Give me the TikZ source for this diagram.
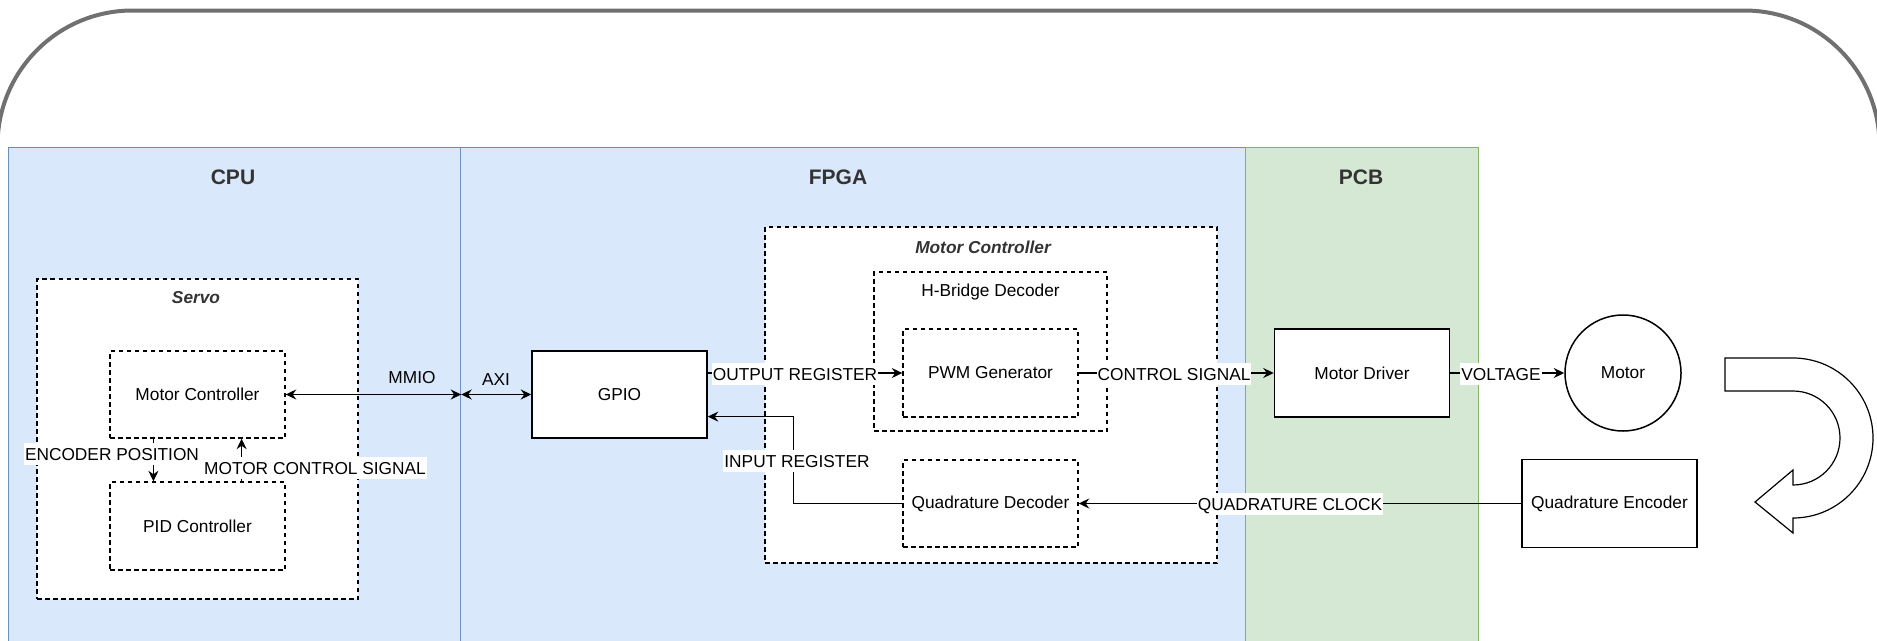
\documentclass[tikz,border=0pt]{standalone}
\usepackage{fontspec}
\setmainfont{Liberation Sans}
\usetikzlibrary{arrows.meta,calc,shapes.geometric}

\definecolor{laneblue}{HTML}{DAE8FC}
\definecolor{laneblueline}{HTML}{6C8EBF}
\definecolor{lanegreen}{HTML}{D5E8D4}
\definecolor{lanegreenline}{HTML}{82B366}
\definecolor{framegray}{HTML}{707070}
\definecolor{titlegray}{HTML}{333333}

\begin{document}
\begin{tikzpicture}[x=1pt,y=-1pt,
  font=\fontsize{17.3}{20}\selectfont,
  >={Stealth[length=10.5pt,width=10pt,inset=3.5pt]},
  lanebox/.style={line width=1.2pt, inner sep=0pt, anchor=north west, minimum height=553pt},
  lanetitle/.style={font=\fontsize{21}{25}\selectfont\bfseries, text=titlegray, inner sep=0pt},
  grouptitle/.style={font=\fontsize{17.3}{20}\selectfont\bfseries\itshape, text=titlegray, inner sep=0pt},
  dbox/.style={draw, fill=white, dash pattern=on 4.5pt off 3.5pt, line width=1.4pt, inner sep=0pt},
  sbox/.style={draw, fill=white, line width=1.5pt, inner sep=0pt, minimum width=175pt, minimum height=87pt},
  plain/.style={inner sep=0pt},
  link/.style={line width=1.5pt},
  elabel/.style={fill=white, inner xsep=1pt, inner ysep=2.5pt, text height=15pt, text depth=2pt},
]
\useasboundingbox (0,0) rectangle (1877,640);

\begin{scope}
\clip (0,0) rectangle (1877,640);
% outer rounded frame
\draw[framegray, line width=4pt, rounded corners=135pt]
  (-2.5,800) -- (-2.5,10.5) -- (1879.5,10.5) -- (1879.5,800);
% swimlanes
\node[lanebox, fill=laneblue, draw=laneblueline, minimum width=452pt] (cpu) at (8,147) {};
\node[lanebox, fill=laneblue, draw=laneblueline, minimum width=785pt] (fpga) at (460,147) {};
\node[lanebox, fill=lanegreen, draw=lanegreenline, minimum width=233pt] (pcb) at (1245,147) {};
\end{scope}

\node[lanetitle] (cputitle) at (233,177) {CPU};
\node[lanetitle] (fpgatitle) at (838,177) {FPGA};
\node[lanetitle] (pcbtitle) at (1361,177) {PCB};

% CPU side
\node[dbox, minimum width=321pt, minimum height=320pt] (servo) at (197.5,439) {};
\node[grouptitle] (servotitle) at (196,298) {Servo};
\node[dbox, minimum width=175pt, minimum height=87pt] (mcc) at (197.5,394.5) {Motor Controller};
\node[dbox, minimum width=175pt, minimum height=88pt] (pid) at (197.5,526) {PID Controller};

% FPGA side
\node[sbox] (gpio) at (619.5,394.5) {GPIO};
\node[dbox, minimum width=452pt, minimum height=336pt] (mcf) at (991,395) {};
\node[grouptitle] (mcftitle) at (983,247) {Motor Controller};
\node[dbox, minimum width=233pt, minimum height=159pt] (hb) at (990.5,351.5) {};
\node[plain] (hbtitle) at (990.5,292) {H-Bridge Decoder};
\node[dbox, minimum width=175pt, minimum height=88pt] (pwm) at (990.5,373) {PWM Generator};
\node[dbox, minimum width=175pt, minimum height=87pt] (qd) at (990.5,503.5) {Quadrature Decoder};

% PCB and outside
\node[sbox, minimum height=88pt] (md) at (1362,373) {Motor Driver};
\node[draw, fill=white, circle, line width=1.5pt, minimum size=116pt, inner sep=0pt] (motor) at (1623,373) {Motor};
\node[sbox, minimum height=88pt] (qe) at (1609.5,503.5) {Quadrature Encoder};

% rotation arrow beside the motor
\draw[line width=1.2pt, fill=white]
  (1725,358) -- (1793,358) arc[start angle=-90, end angle=90, radius=80]
  -- (1793,533) -- (1755,502) -- (1793,470) -- (1793,485)
  arc[start angle=90, end angle=-90, radius=47] -- (1725,391) -- cycle;

% connectors
\coordinate (bus) at (cpu.east |- mcc.east);
\draw[link,<->] (mcc.east) -- (bus);
\draw[link,<->] (bus) -- (gpio.west);
\draw[link,->] (pwm.west -| gpio.east) -- (pwm.west);
\draw[link,->] (qd.west) -- ++(-109,0) |- ($(gpio.north east)!.75!(gpio.south east)$);
\draw[link,->] (pwm.east) -- (md.west);
\draw[link,->] (md.east) -- (motor.west);
\draw[link,->] (qe.west) -- (qd.east);
\draw[link,->] ($(mcc.south west)!.25!(mcc.south east)$) -- ($(pid.north west)!.25!(pid.north east)$);
\draw[link,->] ($(pid.north west)!.75!(pid.north east)$) -- ($(mcc.south west)!.75!(mcc.south east)$);

% connector labels
\node[plain] (lmmio) at (412,378) {MMIO};
\node[plain] (laxi) at (496,380) {AXI};
\node[elabel] (lenc) at (112,454) {ENCODER POSITION};
\node[elabel] (lmcs) at (315,468) {MOTOR CONTROL SIGNAL};
\node[elabel] (lout) at (795,373.5) {OUTPUT REGISTER};
\node[elabel] (lin) at (797,461) {INPUT REGISTER};
\node[elabel] (lctl) at (1174,373.5) {CONTROL SIGNAL};
\node[elabel] (lvolt) at (1501,373.5) {VOLTAGE};
\node[elabel] (lqc) at (1290,504) {QUADRATURE CLOCK};
\end{tikzpicture}
\end{document}
